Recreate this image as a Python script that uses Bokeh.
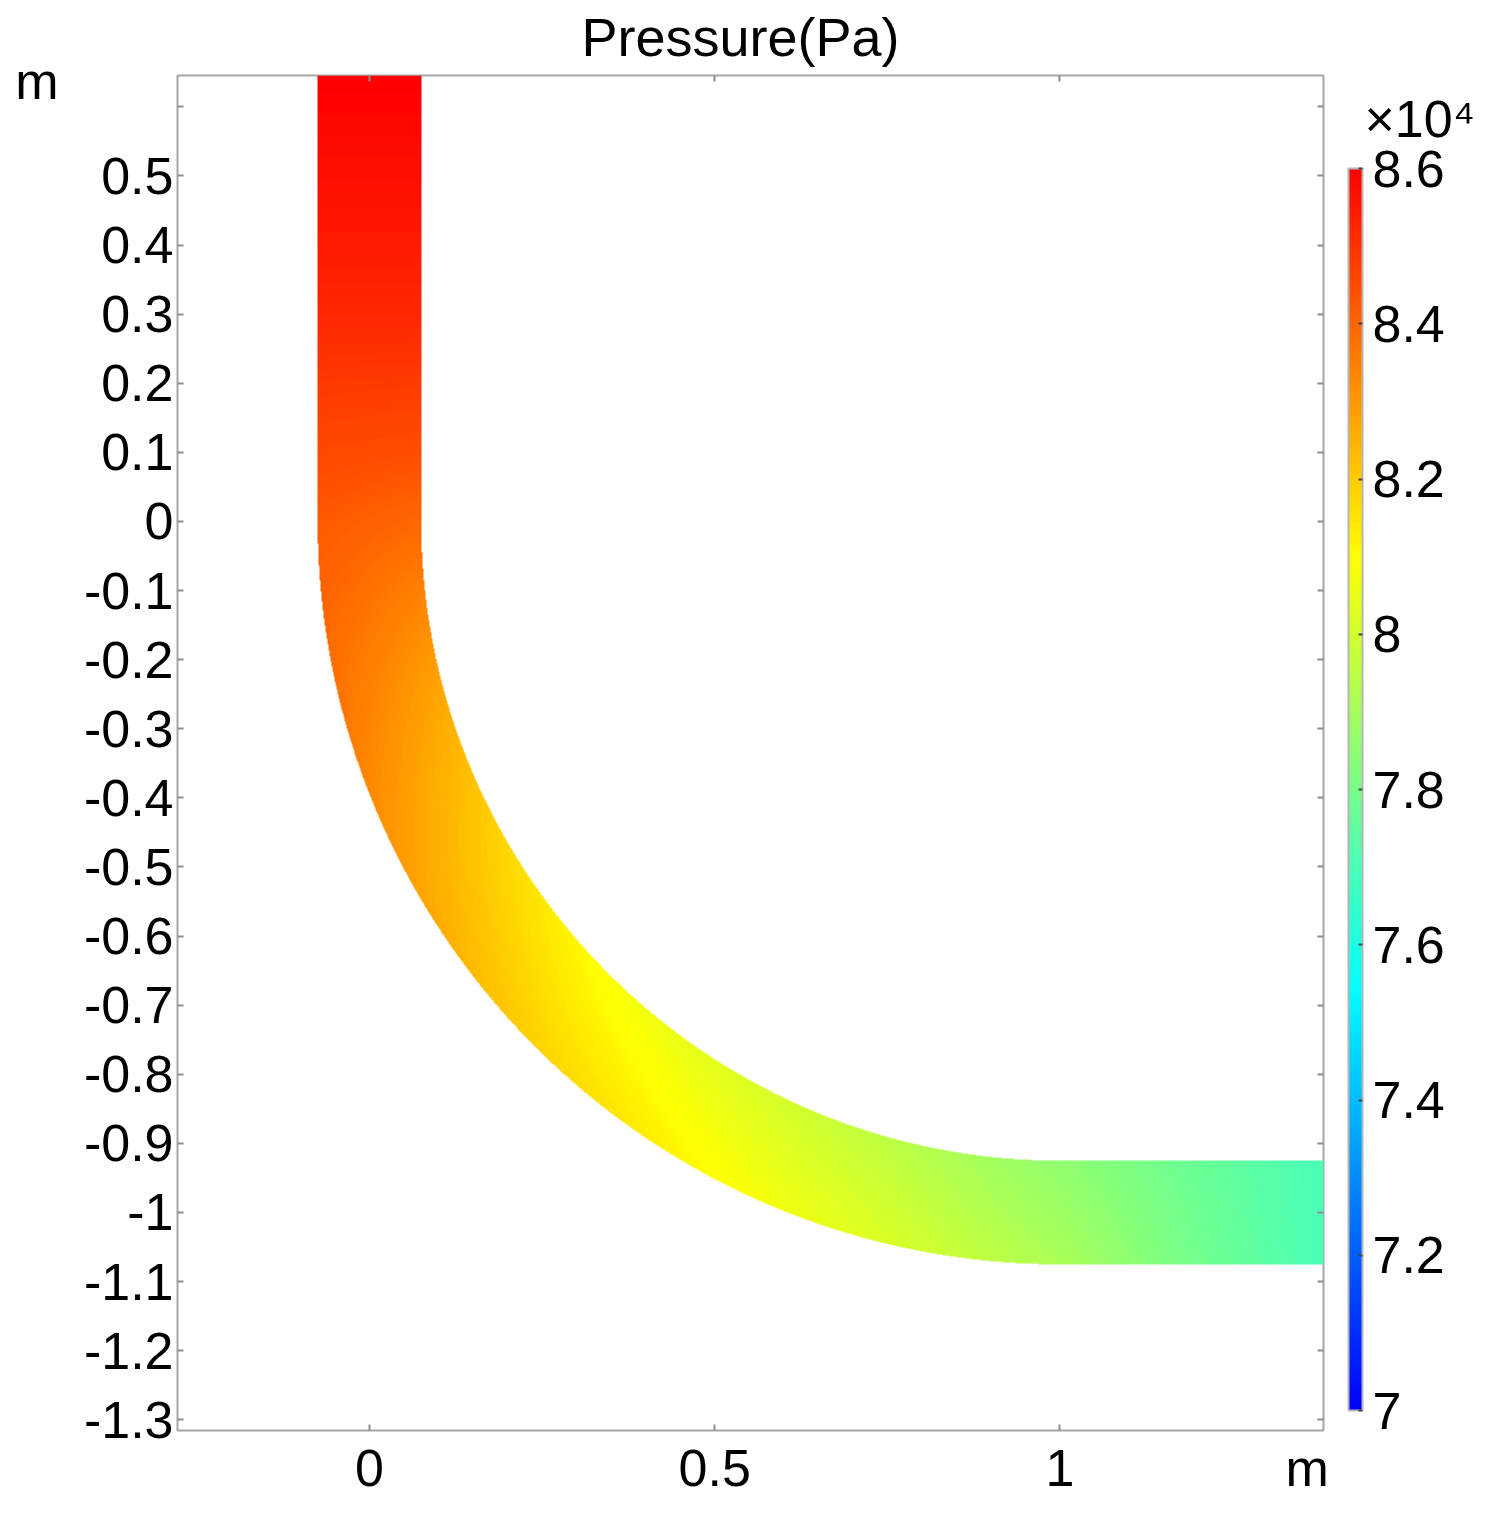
import numpy as np
from bokeh.plotting import figure
from bokeh.models import (LinearColorMapper, ColorBar, FixedTicker, LinearAxis,
                          CustomJSTickFormatter)
from bokeh.embed import file_html
from bokeh.resources import INLINE

# ---------------- data ----------------
# stations along the pipe centreline (arc length, m; 0 = start of the bend)
station_s = [-0.65, -0.50, -0.30, -0.10, 0.0, 0.26, 0.52, 0.785, 1.047, 1.309, 1.571, 1.75, 1.95]
# centreline pressure (Pa)
center_pressure = [86000, 85700, 85200, 84500, 84100, 83200, 82300, 81400, 80700, 79900, 78850, 77900, 77000]
# outer-wall excess over centreline (Pa); inner wall is lower by the same amount
wall_excess = [0, 0, 0, 50, 150, 480, 520, 500, 450, 400, 300, 120, 0]

x_ticks = [0, 0.5, 1]
x_tick_labels = ["0", "0.5", "1"]
x_unit_pos = 1.358
y_ticks = [0.6, 0.5, 0.4, 0.3, 0.2, 0.1, 0.0, -0.1, -0.2, -0.3, -0.4, -0.5, -0.6,
           -0.7, -0.8, -0.9, -1.0, -1.1, -1.2, -1.3]
y_tick_labels = ["", "0.5", "0.4", "0.3", "0.2", "0.1", "0", "-0.1", "-0.2", "-0.3", "-0.4",
                 "-0.5", "-0.6", "-0.7", "-0.8", "-0.9", "-1", "-1.1", "-1.2", "-1.3"]
y_unit_pos = 0.638
unit_text = "m"
cbar_ticks = [70000, 72000, 74000, 76000, 78000, 80000, 82000, 84000, 86000]
cbar_labels = ["7", "7.2", "7.4", "7.6", "7.8", "8", "8.2", "8.4", "8.6"]
cbar_scale_text = "\u00d710\u2074"
cbar_scale_pos = 0.583

# pipe geometry
half_width = 0.075
bend_radius = 1.0

# ---------------- colour map (rainbow) ----------------
anchor_v = [0.0, 0.3375, 0.6875, 1.0]
anchor_c = [(0, 0, 255), (0, 255, 255), (255, 255, 0), (255, 0, 0)]
palette = []
for t in np.linspace(0, 1, 256):
    rgb = [int(round(np.interp(t, anchor_v, [c[k] for c in anchor_c]))) for k in range(3)]
    palette.append("#%02x%02x%02x" % tuple(rgb))

x_start, x_end = -0.278, 1.3816
y_start, y_end = -1.3155, 0.6454
FW, FH = 1146, 1355

# ---------------- field on an image grid ----------------
xs = x_start + (np.arange(FW) + 0.5) * (x_end - x_start) / FW
ys = y_start + (np.arange(FH) + 0.5) * (y_end - y_start) / FH
X, Y = np.meshgrid(xs, ys)
S = np.full(X.shape, np.nan)
N = np.full(X.shape, np.nan)

inlet = (np.abs(X) <= half_width) & (Y >= 0)
S[inlet] = -Y[inlet]
N[inlet] = -X[inlet]

R = np.hypot(X - bend_radius, Y)
bend = (X <= bend_radius) & (Y <= 0) & (np.abs(R - bend_radius) <= half_width)
S[bend] = np.arctan2(-Y[bend], bend_radius - X[bend]) * bend_radius
N[bend] = R[bend] - bend_radius

outlet = (X > bend_radius) & (np.abs(Y + bend_radius) <= half_width)
S[outlet] = np.pi / 2 * bend_radius + (X[outlet] - bend_radius)
N[outlet] = -(Y[outlet] + bend_radius)

mask = ~np.isnan(S)
field = np.full(X.shape, np.nan, dtype=np.float32)
field[mask] = (np.interp(S[mask], station_s, center_pressure)
               + np.interp(S[mask], station_s, wall_excess) * N[mask] / half_width)

mapper = LinearColorMapper(palette=palette, low=70000, high=86000, nan_color=(255, 255, 255, 0))

p = figure(frame_width=FW, frame_height=FH, x_range=(x_start, x_end), y_range=(y_start, y_end),
           output_backend="svg", toolbar_location=None,
           min_border_left=177, min_border_right=155, min_border_top=75, min_border_bottom=80)
p.grid.visible = False
p.background_fill_color = "white"
p.outline_line_color = "#a6a6a6"
p.outline_line_width = 2

p.image(image=[field], x=x_start, y=y_start, dw=x_end - x_start, dh=y_end - y_start,
        color_mapper=mapper)

FONT = "Liberation Sans"
FS = "52px"


def blank_fmt():
    return CustomJSTickFormatter(code="return ''")


def ticks_only(ax):
    ax.axis_line_color = None
    ax.major_tick_in = 6
    ax.major_tick_out = 0
    ax.major_tick_line_color = "#8c8c8c"
    ax.major_tick_line_width = 2
    ax.minor_tick_line_color = None
    ax.major_label_text_font_size = "1px"
    ax.major_label_standoff = 0


def labels_only(ax, standoff):
    ax.axis_line_color = None
    ax.major_tick_line_color = None
    ax.minor_tick_line_color = None
    ax.major_tick_in = 0
    ax.major_tick_out = 0
    ax.major_label_text_font = FONT
    ax.major_label_text_font_size = FS
    ax.major_label_text_color = "black"
    ax.major_label_standoff = standoff


# bottom: tick marks (nearest the frame), then labels incl. the unit "m"
xa = p.xaxis[0]
xa.ticker = FixedTicker(ticks=x_ticks)
xa.formatter = blank_fmt()
ticks_only(xa)
bx_ticks = x_ticks + [x_unit_pos]
x_lab_ax = LinearAxis(ticker=FixedTicker(ticks=bx_ticks),
                      major_label_overrides=dict(zip(bx_ticks, x_tick_labels + [unit_text])))
labels_only(x_lab_ax, 8)
p.add_layout(x_lab_ax, "below")

# left: ticks + labels, then the unit "m"
ya = p.yaxis[0]
ya.ticker = FixedTicker(ticks=y_ticks)
ya.major_label_overrides = dict(zip(y_ticks, y_tick_labels))
ticks_only(ya)
ya.major_label_text_font = FONT
ya.major_label_text_font_size = FS
ya.major_label_text_color = "black"
ya.major_label_standoff = 4
y_unit_ax = LinearAxis(ticker=FixedTicker(ticks=[y_unit_pos]),
                       major_label_overrides={y_unit_pos: unit_text})
labels_only(y_unit_ax, 22)
p.add_layout(y_unit_ax, "left")

# mirrored tick marks on top and right
top_ax = LinearAxis(ticker=FixedTicker(ticks=x_ticks), formatter=blank_fmt())
ticks_only(top_ax)
p.add_layout(top_ax, "above")
right_ax = LinearAxis(ticker=FixedTicker(ticks=y_ticks), formatter=blank_fmt())
ticks_only(right_ax)
p.add_layout(right_ax, "right")

# colour-bar scale factor
scale_ax = LinearAxis(ticker=FixedTicker(ticks=[cbar_scale_pos]),
                      major_label_overrides={cbar_scale_pos: cbar_scale_text})
labels_only(scale_ax, 41)
p.add_layout(scale_ax, "right")

p.title.text = "Pressure(Pa)"
p.title.text_font = FONT
p.title.text_font_size = "54px"
p.title.text_font_style = "normal"
p.title.text_color = "black"
p.title.align = "left"
p.title.offset = 404
p.title.vertical_align = "top"
p.title.standoff = 13

cb = ColorBar(color_mapper=mapper, ticker=FixedTicker(ticks=cbar_ticks),
              major_label_overrides=dict(zip(cbar_ticks, cbar_labels)),
              width=14, height=1242, location=(1171, 20), padding=0, margin=0,
              bar_line_color="#b5b5b5", bar_line_width=2,
              major_tick_line_color="#444444", major_tick_line_width=2,
              major_tick_in=4, major_tick_out=0,
              minor_tick_line_color=None, label_standoff=10,
              major_label_text_font=FONT, major_label_text_font_size=FS,
              major_label_text_color="black",
              background_fill_color=None, border_line_color=None)
p.add_layout(cb, "center")

open("out.html", "w").write(file_html(p, INLINE))
